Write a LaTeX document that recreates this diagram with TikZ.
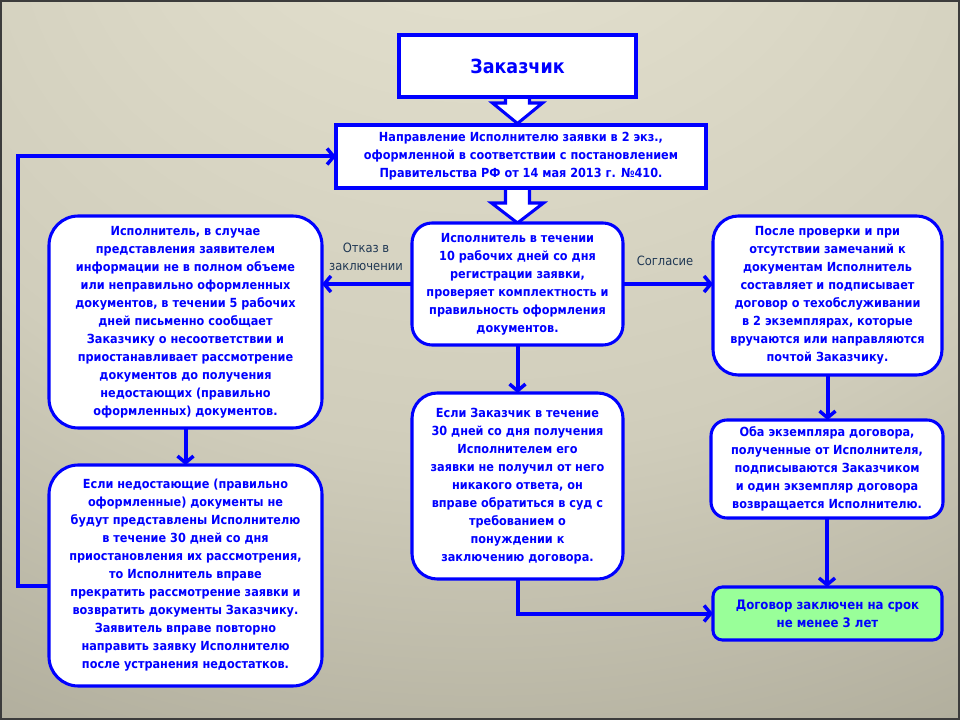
\documentclass[tikz,border=0pt]{standalone}
\usepackage{fontspec}
\setmainfont{DejaVu Sans Condensed}
\usetikzlibrary{arrows.meta,calc}
\definecolor{bgA}{HTML}{E8E5D3}
\definecolor{bgB}{HTML}{D0CDBB}
\definecolor{bgC}{HTML}{A6A392}
\definecolor{bgD}{HTML}{8A8777}
\definecolor{frame}{HTML}{3C3C3C}
\definecolor{vblue}{HTML}{0000FF}
\definecolor{lblcol}{HTML}{203854}
\definecolor{gfill}{HTML}{99FF99}
\pgfdeclareradialshading{bgshade}{\pgfpoint{0bp}{40bp}}{color(0bp)=(bgA); color(33bp)=(bgB); color(58bp)=(bgC); color(100bp)=(bgD)}
\pgfdeclarelayer{bg}
\pgfsetlayers{bg,main}
\tikzset{
  box/.style={draw=vblue, line width=2.3pt, fill=white, text=vblue, align=center,
    font=\fontsize{9.4pt}{13.5pt}\selectfont\bfseries, inner sep=0pt, outer sep=0pt},
  rbox/.style={box, rounded corners=#1},
  conn/.style={draw=vblue, line width=3pt, -{Straight Barb[length=5pt,width=12pt,line width=2.6pt]}},
  blockarrow/.style={draw=vblue, line width=2.3pt, fill=white, line join=miter},
  lbl/.style={text=lblcol, font=\fontsize{9.6pt}{13.5pt}\selectfont, align=center, inner sep=0pt}
}
\begin{document}
\begin{tikzpicture}[x=0.75pt,y=-0.75pt]
\useasboundingbox (0,0) rectangle (960,720);

% boxes
\node[box, minimum width={237*0.75pt}, minimum height={62*0.75pt}, font=\fontsize{14.6pt}{16pt}\selectfont\bfseries] (zak) at (517.5,66) {Заказчик};
\node[box, minimum width={370*0.75pt}, minimum height={63*0.75pt}] (napr) at (521,156.5)
  {Направление Исполнителю заявки в 2 экз.,\\оформленной в соответствии с постановлением\\Правительства РФ от 14 мая 2013 г. №410.};
\node[rbox=15pt, minimum width={211*0.75pt}, minimum height={122*0.75pt}] (isp) at (517.5,284)
  {Исполнитель в течении\\10 рабочих дней со дня\\регистрации заявки,\\проверяет комплектность и\\правильность оформления\\документов.};
\node[rbox=22pt, minimum width={273*0.75pt}, minimum height={212*0.75pt}] (left1) at (185.5,322)
  {Исполнитель, в случае\\представления заявителем\\информации не в полном объеме\\или неправильно оформленных\\документов, в течении 5 рабочих\\дней письменно сообщает\\Заказчику о несоответствии и\\приостанавливает рассмотрение\\документов до получения\\недостающих (правильно\\оформленных) документов.};
\node[rbox=22pt, minimum width={273*0.75pt}, minimum height={221*0.75pt}] (left2) at (185.5,575.5)
  {Если недостающие (правильно\\оформленные) документы не\\будут представлены Исполнителю\\в течение 30 дней со дня\\приостановления их рассмотрения,\\то Исполнитель вправе\\прекратить рассмотрение заявки и\\возвратить документы Заказчику.\\Заявитель вправе повторно\\направить заявку Исполнителю\\после устранения недостатков.};
\node[rbox=19pt, minimum width={211*0.75pt}, minimum height={186*0.75pt}] (cent2) at (517.5,486)
  {Если Заказчик в течение\\30 дней со дня получения\\Исполнителем его\\заявки не получил от него\\никакого ответа, он\\вправе обратиться в суд с\\требованием о\\понуждении к\\заключению договора.};
\node[rbox=19pt, minimum width={229*0.75pt}, minimum height={159*0.75pt}] (right1) at (827.5,295.5)
  {После проверки и при\\отсутствии замечаний к\\документам Исполнитель\\составляет и подписывает\\договор о техобслуживании\\в 2 экземплярах, которые\\вручаются или направляются\\почтой Заказчику.};
\node[rbox=12pt, minimum width={232*0.75pt}, minimum height={98*0.75pt}] (right2) at (827,469)
  {Оба экземпляра договора,\\полученные от Исполнителя,\\подписываются Заказчиком\\и один экземпляр договора\\возвращается Исполнителю.};
\node[rbox=7pt, fill=gfill, minimum width={229*0.75pt}, minimum height={53*0.75pt}, font=\fontsize{9.8pt}{13.5pt}\selectfont\bfseries] (green) at (827.5,613.5)
  {Договор заключен на срок\\не менее 3 лет};

% background and block arrows
\begin{pgfonlayer}{bg}
\shade[shading=bgshade] (0,0) rectangle (960,720);
\draw[frame, line width=1.5pt] (1,1) rectangle (959,719);
\draw[blockarrow] ($(zak.south)+(-12,-4)$) -- ($(zak.south)+(-12,6)$) -- ($(zak.south)+(-25,6)$)
  -- ($(zak.south)+(0,26.5)$) -- ($(zak.south)+(25,6)$) -- ($(zak.south)+(12,6)$) -- ($(zak.south)+(12,-4)$) -- cycle;
\coordinate (a2top) at (isp.north |- napr.south);
\draw[blockarrow] ($(a2top)+(-12,-4)$) -- ($(isp.north)+(-12,-20)$) -- ($(isp.north)+(-26,-20)$)
  -- ($(isp.north)+(0,0)$) -- ($(isp.north)+(26,-20)$) -- ($(isp.north)+(12,-20)$) -- ($(a2top)+(12,-4)$) -- cycle;
\end{pgfonlayer}

% connectors
\draw[conn] (isp.west) -- (isp.west -| left1.east);
\draw[conn] (isp.east) -- (isp.east -| right1.west);
\draw[conn] (isp.south) -- (cent2.north);
\draw[conn] (left1.south) -- (left2.north);
\draw[conn] (right1.south) -- (right1.south |- right2.north);
\draw[conn] (right2.south) -- (right2.south |- green.north);
\draw[conn] (cent2.south) |- (green.west);
\coordinate (fb) at (18,586);
\draw[conn] (left2.west |- fb) -- (fb) |- (napr.west);

% labels
\node[lbl] (lref) at (366,257) {Отказ в\\заключении};
\node[lbl] (lsog) at (665,261) {Согласие};
\end{tikzpicture}
\end{document}
